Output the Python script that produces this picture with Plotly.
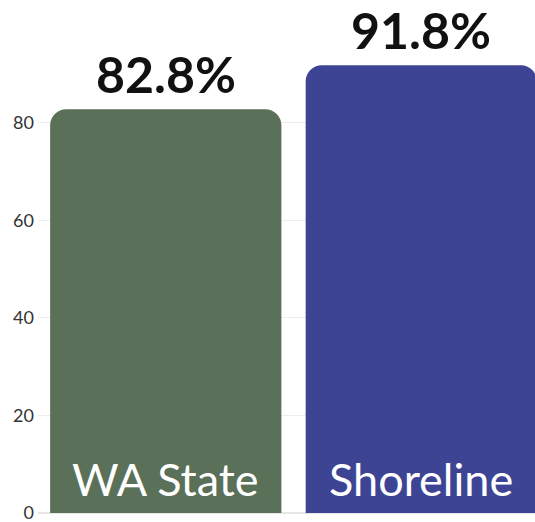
import plotly.graph_objects as go

categories = ["WA State", "Shoreline"]
values = [82.8, 91.8]
value_labels = ["82.8%", "91.8%"]
colors = ["#5a7058", "#3d4494"]
tick_vals = [0, 20, 40, 60, 80]

fig = go.Figure()
fig.add_trace(go.Bar(
    x=categories, y=values,
    marker=dict(color=colors, cornerradius=16, line=dict(width=0)),
    hoverinfo="skip",
))

for c, v, lab in zip(categories, values, value_labels):
    fig.add_annotation(x=c, y=v, text=f"<b>{lab}</b>", showarrow=False,
                       yanchor="bottom", yshift=3,
                       font=dict(family="Lato", size=50, color="#111111"))
    fig.add_annotation(x=c, y=0, text=c, showarrow=False,
                       yanchor="bottom", yshift=5,
                       font=dict(family="Lato", size=45, color="white"))

fig.update_layout(
    width=535, height=522,
    margin=dict(l=38, r=0, t=0, b=9),
    plot_bgcolor="white", paper_bgcolor="white",
    showlegend=False, bargap=0.095,
    xaxis=dict(range=[-0.5, 1.445], showticklabels=False, showgrid=False,
               zeroline=False, showline=False, fixedrange=True),
    yaxis=dict(range=[0, 105.2], tickvals=tick_vals, showgrid=True,
               gridcolor="#ededed", gridwidth=1, zeroline=True,
               zerolinecolor="#e6e6e6", showline=False, fixedrange=True,
               tickfont=dict(family="Lato", size=18, color="#333333"),
               ticks="", ticklabelstandoff=3, ticklabeloverflow="allow"),
)

fig.write_html(
    "out.html",
    config={"displayModeBar": False, "staticPlot": True},
    post_script="document.body.style.margin='0';document.body.style.overflow='hidden';",
)
